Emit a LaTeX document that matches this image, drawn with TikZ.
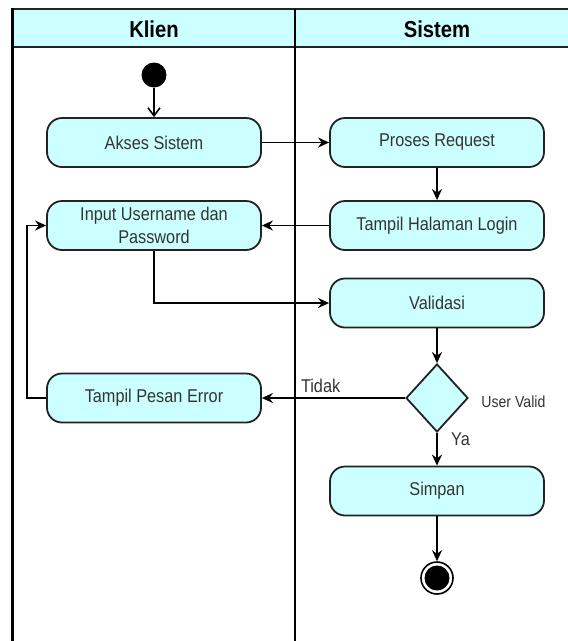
\documentclass[tikz,border=0pt]{standalone}
\usepackage{fontspec}
\setmainfont[FakeStretch=0.88]{Liberation Sans}
\usetikzlibrary{arrows.meta,shapes.geometric}
\definecolor{lanefill}{HTML}{CCFFFF}
\definecolor{inkline}{HTML}{222222}
\definecolor{inktext}{HTML}{333333}
\tikzstyle{activity}=[draw=inkline,fill=lanefill,line width=1.8pt,rounded corners=15pt,minimum width=214pt,minimum height=49pt,inner sep=0pt,text=inktext,align=center,font=\fontsize{18.5}{23.5}\selectfont]
\tikzstyle{decision}=[diamond,draw=inkline,fill=lanefill,line width=1.8pt,minimum width=62pt,minimum height=68pt,inner sep=0pt]
\tikzstyle{flow}=[line width=1.8pt,-{Stealth[length=11pt,width=10pt]}]
\tikzstyle{startflow}=[line width=1.6pt,-{Straight Barb[length=8pt,width=12pt]}]
\tikzstyle{lanetitle}=[text=black,font=\bfseries\fontsize{23}{27}\selectfont]
\tikzstyle{guard}=[text=inktext,font=\fontsize{18.5}{22}\selectfont]
\tikzstyle{initstate}=[circle,fill=black,minimum size=25pt,inner sep=0pt]
\tikzstyle{finalstate}=[circle,draw=black,fill=white,line width=1.6pt,minimum size=32pt,inner sep=0pt,
  path picture={\fill[black] (path picture bounding box.center) circle (12.5pt);}]

\begin{document}
\begin{tikzpicture}[x=1pt,y=-1pt]
	\useasboundingbox (0,0) rectangle (568,641);
	% swimlanes
	\fill[lanefill] (12,9) rectangle (580,47);
	\draw[line width=2.2pt,inkline] (12,9) -- (580,9);
	\draw[line width=2.2pt,inkline] (12,47) -- (580,47);
	\draw[line width=3pt] (12,8) -- (12,660);
	\draw[line width=2pt] (295,9) -- (295,660);
	\node[lanetitle] (klien) at (154,29) {Klien};
	\node[lanetitle] (sistem) at (437,29) {Sistem};

	\node[initstate] (mulai) at (154,75) {};
	\node[activity] (akses) at (154,142.5) {Akses Sistem};
	\node[activity] (proses) at (437,142.5) {Proses Request};
	\node[activity] (halaman) at (437,225.5) {Tampil Halaman Login};
	\node[activity] (input) at (154,225.5) {Input Username dan\\Password};
	\node[activity] (validasi) at (437,303) {Validasi};
	\node[decision] (cek) at (437,398) {};
	\node[activity] (pesan) at (154,398) {Tampil Pesan Error};
	\node[activity] (simpan) at (437,491) {Simpan};
	\node[finalstate] (selesai) at (437,578) {};
	\node[guard,anchor=west,font=\fontsize{16}{19}\selectfont] (uservalid) at ([xshift=9pt,yshift=-4pt]cek.east) {User Valid};

	\draw[startflow] (mulai) -- (akses);
	\draw[flow] (akses) -- (proses);
	\draw[flow] (proses) -- (halaman);
	\draw[flow] (halaman) -- (input);
	\draw[flow] (input.south) |- (validasi.west);
	\draw[flow] (validasi) -- (cek);
	\draw[flow] (cek) -- (pesan) node[guard,pos=0.59,above=1pt] {Tidak};
	\draw[flow] (pesan.west) -- ++(-19,0) |- (input.west);
	\draw[flow] (cek) -- (simpan) node[guard,pos=0.2,right=10pt] {Ya};
	\draw[flow] (simpan) -- (selesai);
\end{tikzpicture}
\end{document}
